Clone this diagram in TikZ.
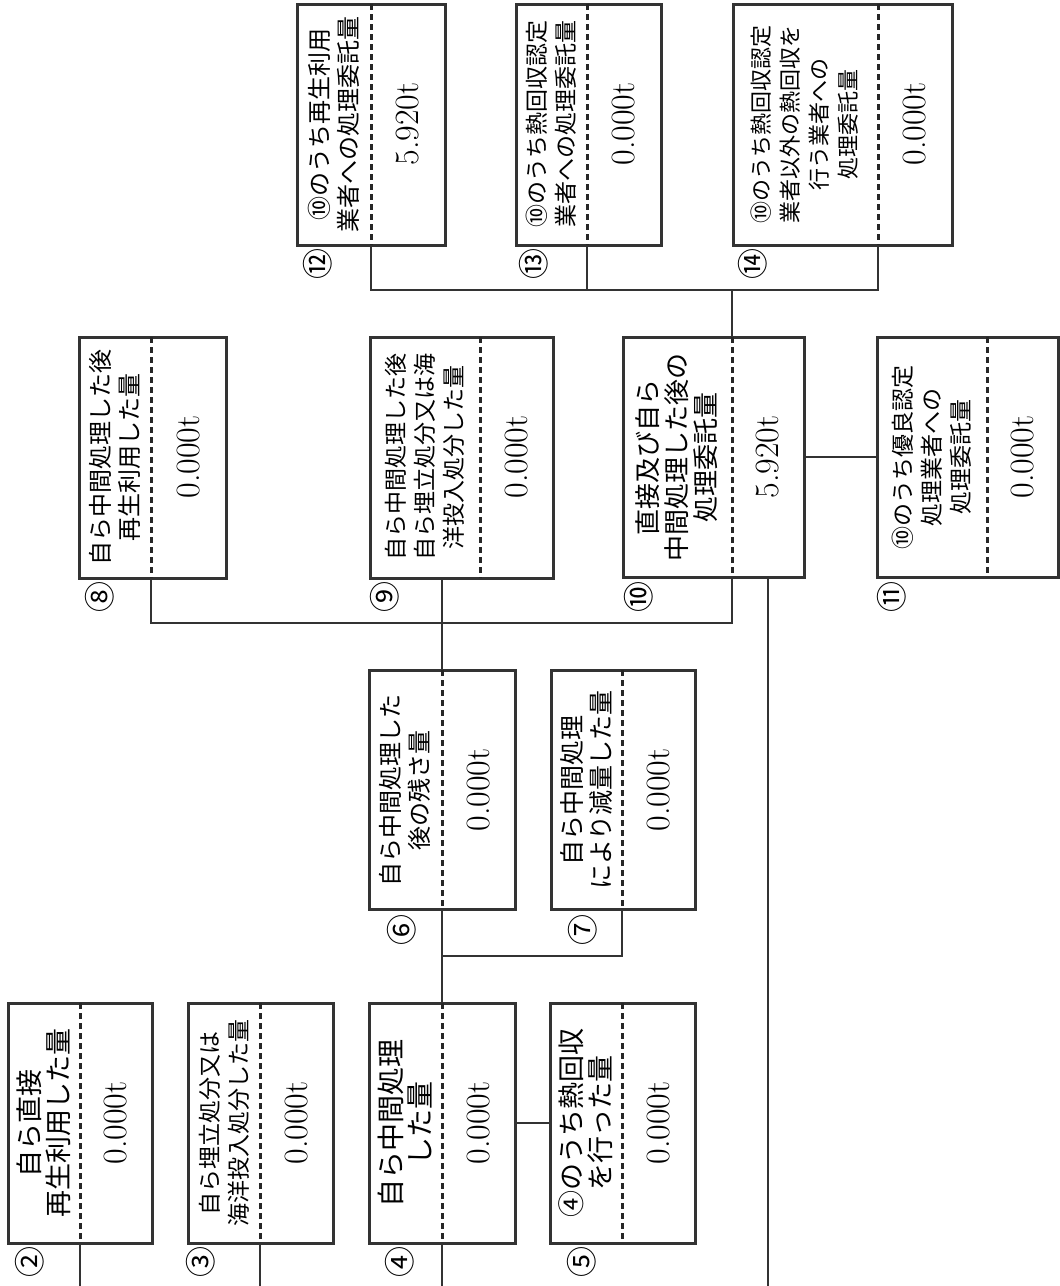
\documentclass[tikz,border=0pt]{standalone}
\usepackage{fontspec}
\newfontfamily\jp{Noto Sans CJK JP}
\usetikzlibrary{positioning,fit}

\tikzset{
  wbox/.style={draw=black!80, line width=1.5pt, inner sep=0pt},
  divline/.style={draw=black!85, dashed, dash pattern=on 3pt off 2pt, line width=1.5pt},
  wire/.style={draw=black!80, line width=1.3pt},
  lbl/.style={rotate=90, align=center, inner sep=0pt, font=\jp\fontsize{#1}{14.5}\selectfont},
  lbl/.default=12,
  val/.style={rotate=90, inner sep=0pt, font=\rmfamily\fontsize{17}{18}\selectfont},
  num/.style={rotate=90, inner sep=0pt, font=\jp\fontsize{15.5}{17}\selectfont},
}

% name, left, top, right, bottom, divider
\newcommand{\wastebox}[6]{%
  \node[wbox, fit={(#2,#3) (#4,#5)}] (#1) {};
  \coordinate (#1-top) at (#6,#3);
  \coordinate (#1-bot) at (#6,#5);
  \draw[divline] (#1-top) -- (#1-bot);}

\begin{document}
\begin{tikzpicture}[x=0.5pt, y=-0.5pt]
  \useasboundingbox (0,0) rectangle (1060,1286);

  % bottom row
  \wastebox{b2}{8}{1003}{152}{1243}{80}
  \node[lbl=13.5] (b2-text) at (44,1123) {自ら直接\\再生利用した量};
  \node[val] (b2-val) at (116,1123) {0.000t};
  \node[num] (b2-no) at (30,1262) {②};

  \wastebox{b3}{188}{1003}{333}{1243}{260}
  \node[lbl=11.5] (b3-text) at (224,1123) {自ら埋立処分又は\\海洋投入処分した量};
  \node[val] (b3-val) at (297,1123) {0.000t};
  \node[num] (b3-no) at (201,1262) {③};

  \wastebox{b4}{369}{1003}{515}{1243}{442}
  \node[lbl=14] (b4-text) at (405,1123) {自ら中間処理\\した量};
  \node[val] (b4-val) at (479,1123) {0.000t};
  \node[num] (b4-no) at (400,1262) {④};

  \wastebox{b5}{550}{1003}{695}{1243}{622}
  \node[lbl=13.5] (b5-text) at (586,1123) {④のうち熱回収\\を行った量};
  \node[val] (b5-val) at (659,1123) {0.000t};
  \node[num] (b5-no) at (582,1262) {⑤};

  % third row
  \wastebox{b6}{369}{670}{515}{909}{442}
  \node[lbl=12] (b6-text) at (405,790) {自ら中間処理した\\後の残さ量};
  \node[val] (b6-val) at (479,790) {0.000t};
  \node[num] (b6-no) at (402,930) {⑥};

  \wastebox{b7}{551}{670}{695}{909}{622}
  \node[lbl=12.5] (b7-text) at (586,790) {自ら中間処理\\により減量した量};
  \node[val] (b7-val) at (659,790) {0.000t};
  \node[num] (b7-no) at (583,930) {⑦};

  % second row
  \wastebox{b8}{79}{337}{226}{578}{151}
  \node[lbl=12] (b8-text) at (115,457) {自ら中間処理した後\\再生利用した量};
  \node[val] (b8-val) at (189,457) {0.000t};
  \node[num] (b8-no) at (100,597) {⑧};

  \wastebox{b9}{370}{337}{553}{578}{480}
  \node[lbl=11.5] (b9-text) at (425,457) {自ら中間処理した後\\自ら埋立処分又は海\\洋投入処分した量};
  \node[val] (b9-val) at (517,457) {0.000t};
  \node[num] (b9-no) at (385,597) {⑨};

  \wastebox{b10}{623}{337}{804}{577}{732}
  \node[lbl=13] (b10-text) at (677,457) {直接及び自ら\\中間処理した後の\\処理委託量};
  \node[val] (b10-val) at (768,457) {5.920t};
  \node[num] (b10-no) at (639,597) {⑩};

  \wastebox{b11}{877}{337}{1058}{577}{987}
  \node[lbl=11.5] (b11-text) at (932,457) {⑩のうち優良認定\\処理業者への\\処理委託量};
  \node[val] (b11-val) at (1023,457) {0.000t};
  \node[num] (b11-no) at (892,597) {⑪};

  % top row
  \wastebox{b12}{297}{4}{445}{245}{371}
  \node[lbl=12] (b12-text) at (334,124) {⑩のうち再生利用\\業者への処理委託量};
  \node[val] (b12-val) at (408,124) {5.920t};
  \node[num] (b12-no) at (318,264) {⑫};

  \wastebox{b13}{516}{4}{661}{245}{587}
  \node[lbl=11.5] (b13-text) at (551,124) {⑩のうち熱回収認定\\業者への処理委託量};
  \node[val] (b13-val) at (624,124) {0.000t};
  \node[num] (b13-no) at (534,264) {⑬};

  \wastebox{b14}{733}{4}{952}{245}{878}
  \node[lbl=11] (b14-text) at (805,124) {⑩のうち熱回収認定\\業者以外の熱回収を\\行う業者への\\処理委託量};
  \node[val] (b14-val) at (915,124) {0.000t};
  \node[num] (b14-no) at (753,264) {⑭};

  % joints and free ends
  \coordinate (j-top) at (732,290);
  \coordinate (j-mid) at (442,623);
  \coordinate (j-low) at (442,956);
  \coordinate (b2-end) at (80,1286);
  \coordinate (b3-end) at (260,1286);
  \coordinate (b4-end) at (442,1286);
  \coordinate (b10-end) at (768,1286);

  \draw[wire] (b2-bot) -- (b2-end);
  \draw[wire] (b3-bot) -- (b3-end);
  \draw[wire] (b4-bot) -- (b4-end);
  \draw[wire] (b4.east) -- (b5.west);
  \draw[wire] (b6-bot) -- (b4-top);
  \draw[wire] (b7-bot) |- (j-low);
  \draw[wire] (b6-top) -- (b6-top |- b9.south);
  \draw[wire] (b8-bot) |- (j-mid) -| (b10-bot);
  \draw[wire] (b10.east) -- (b11.west);
  \draw[wire] (b10.south -| b10-end) -- (b10-end);
  \draw[wire] (b10-top) -- (j-top);
  \draw[wire] (b12-bot) |- (j-top) -| (b14-bot);
  \draw[wire] (b13-bot) -- (b13-bot |- j-top);
\end{tikzpicture}
\end{document}
